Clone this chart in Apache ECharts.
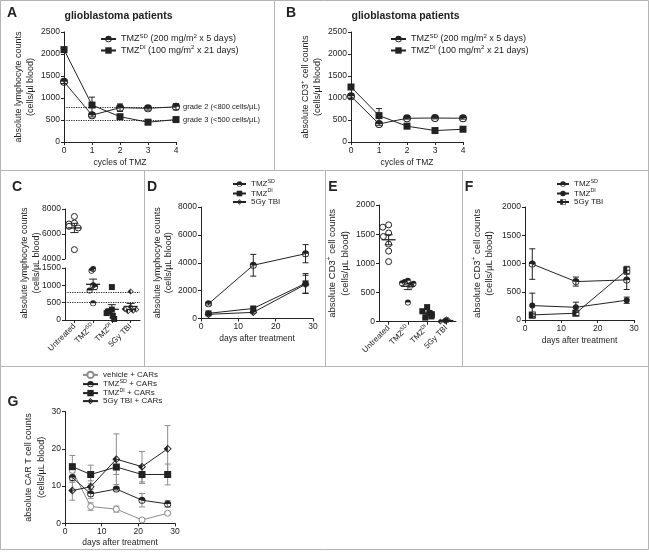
<!DOCTYPE html>
<html><head><meta charset="utf-8">
<script src="https://cdn.jsdelivr.net/npm/echarts@6/dist/echarts.min.js"></script>
<style>html,body{margin:0;padding:0;background:#fff}#c{width:649px;height:554px}</style>
</head><body><div id="c"></div>
<script>
// ---------------- DATA ----------------
// Panel A / B : glioblastoma patients
const cyclesTMZ = [0, 1, 2, 3, 4];
const aSD = [1370, 610, 780, 765, 800];
const aSDerr = [40, 40, 85, 40, 70];
const aDI = [2100, 840, 575, 450, 510];
const aDIerr = [40, 180, 40, 45, 30];
const gradeValues = [800, 500];
const gradeLabels = ['grade 2 (<800 cells/\u00b5L)', 'grade 3 (<500 cells/\u00b5L)'];

const bSD = [1040, 410, 540, 545, 540];
const bSDerr = [40, 30, 20, 20, 20];
const bDI = [1250, 600, 360, 260, 290];
const bDIerr = [30, 160, 30, 20, 20];

// Panel C / E : column scatter groups
const groups = ['Untreated', 'TMZ^SD', 'TMZ^DI', '5Gy TBI'];
const cUntreated = [7400, 6880, 6800, 6610, 6480, 4750];
const cSD = [1470, 1420, 1000, 950, 850, 480];
const cDI = [950, 300, 250, 200, 120, 30];
const cTBI = [820, 380, 320, 300, 270, 250];
const cRefLines = [800, 500];

const eUntreated = [1660, 1620, 1520, 1460, 1330, 1210, 1030];
const eSD = [700, 680, 660, 650, 620, 330];
const eDI = [250, 180, 150, 130, 110, 90, 70];
const eTBI = [40, 30, 20, 15, 10, 5];

// Panel D : lymphocytes over time
const dDays = [2, 14, 28];
const dSD = [1050, 3820, 4650];
const dSDerr = [80, 780, 650];
const dDI = [370, 720, 2520];
const dDIerr = [60, 100, 700];
const dTBI = [300, 440, 2450];
const dTBIerr = [40, 60, 650];

// Panel F : CD3+ over time
const fDays = [2, 14, 28];
const fSD = [990, 680, 710];
const fSDerr = [270, 80, 170];
const fDI = [255, 225, 350];
const fDIerr = [220, 90, 55];
const fTBI = [90, 120, 880];
const fTBIerr = [30, 40, 70];

// Panel G : CAR T cells
const gDays = [2, 7, 14, 21, 28];
const gVeh = [14.2, 4.5, 3.8, 0.9, 2.7];
const gVehErr = [1.5, 1.0, 0.8, 0.3, 0.4];
const gSD = [12.3, 7.9, 9.2, 6.2, 5.2];
const gSDerr = [1.3, 1.2, 0.5, 1.8, 0.9];
const gDI = [15.2, 13.1, 15.1, 13.1, 13.1];
const gDIerr = [3.0, 2.5, 2.0, 2.4, 2.8];
const gTBI = [8.8, 9.8, 17.2, 15.2, 20.0];
const gTBIerr = [2.6, 1.6, 6.8, 4.1, 6.2];

// ---------------- STYLE ----------------
const FONT = '"Liberation Sans", Arial, Helvetica, sans-serif';
const INK = '#222';
const GRAY = '#8c8c8c';
const SYM = {
  halfCircle: 'path://M-10,0A10,10,0,0,1,10,0ZM-10,0A10,10,0,0,0,10,0L7.6,0A7.6,7.6,0,0,1,-7.6,0Z',
  halfDiamond: 'path://M0,-10L0,10L-10,0ZM0,-10L10,0L0,10L0,6.8L6.8,0L0,-6.8Z',
  halfSquare: 'path://M-10,-10L0,-10L0,10L-10,10ZM0,-10L10,-10L10,10L0,10L0,7.6L7.6,7.6L7.6,-7.6L0,-7.6Z',
  ring: 'path://M-10,0A10,10,0,0,1,10,0L7.6,0A7.6,7.6,0,0,0,-7.6,0ZM-10,0A10,10,0,0,0,10,0L7.6,0A7.6,7.6,0,0,1,-7.6,0Z'
};

function supRich(fs, lh) {
  return {
    n: {fontSize: fs, lineHeight: lh, fontFamily: FONT, color: INK},
    s: {fontSize: Math.round(fs * 0.68 * 10) / 10, lineHeight: Math.round(fs * 0.8), verticalAlign: 'top', fontFamily: FONT, color: INK}
  };
}
function supText(t) { // 'TMZ^SD' -> rich
  const m = t.match(/^([^\^]*)\^(\S+)(.*)$/);
  if (!m) return '{n|' + t + '}';
  return '{n|' + m[1] + '}{s|' + m[2] + '}' + (m[3] ? '{n|' + m[3] + '}' : '');
}

function valAxis(gi, o, nameCfg) {
  return Object.assign({
    type: 'value', gridIndex: gi,
    axisLine: {show: true, onZero: false, lineStyle: {color: INK, width: 1}},
    axisTick: {show: true, length: 3, lineStyle: {color: INK, width: 1}},
    axisLabel: {color: INK, fontSize: 8.5, fontFamily: FONT, margin: 4, formatter: v => String(v)},
    splitLine: {show: false}
  }, nameCfg || {}, o);
}
function yName(text, gap, fs, lh) {
  return {name: text, nameLocation: 'middle', nameRotate: 90, nameGap: gap,
    nameTextStyle: {color: INK, fontSize: fs, lineHeight: lh, fontFamily: FONT, rich: supRich(fs, lh)}};
}
function xName(text, gap, fs) {
  return {name: text, nameLocation: 'middle', nameGap: gap,
    nameTextStyle: {color: INK, fontSize: fs, fontFamily: FONT}};
}
function catAxis(gi, show) {
  return {
    type: 'category', gridIndex: gi, data: groups, show: show,
    jitter: 12, jitterOverlap: false, jitterMargin: 0.3,
    axisLine: {show: true, lineStyle: {color: INK, width: 1}},
    axisTick: {show: true, length: 3, alignWithLabel: true, lineStyle: {color: INK}},
    axisLabel: {interval: 0, rotate: 45, margin: 5, fontSize: 8, fontFamily: FONT, color: INK,
      formatter: v => supText(v), rich: supRich(8, 10)}
  };
}

function errBars(color, cap) {
  return function (params, api) {
    const x = api.value(0), y = api.value(1), e = api.value(2);
    const hi = api.coord([x, y + e]), lo = api.coord([x, y - e]);
    const st = {stroke: color, lineWidth: 1};
    return {type: 'group', children: [
      {type: 'line', shape: {x1: hi[0], y1: hi[1], x2: lo[0], y2: lo[1]}, style: st},
      {type: 'line', shape: {x1: hi[0] - cap, y1: hi[1], x2: hi[0] + cap, y2: hi[1]}, style: st},
      {type: 'line', shape: {x1: lo[0] - cap, y1: lo[1], x2: lo[0] + cap, y2: lo[1]}, style: st}
    ]};
  };
}
function errSeries(xi, yi, xs, ys, es, color, cap) {
  return {type: 'custom', xAxisIndex: xi, yAxisIndex: yi, silent: true, z: 1,
    renderItem: errBars(color, cap || 3), encode: {x: 0, y: 1},
    data: xs.map((x, i) => [x, ys[i], es[i]])};
}
function lineSeries(name, xi, yi, xs, ys, sym, size, color, fill, border) {
  return {type: 'line', name: name, xAxisIndex: xi, yAxisIndex: yi, z: 3,
    data: xs.map((x, i) => [x, ys[i]]), symbol: sym, symbolSize: size, showAllSymbol: true,
    lineStyle: {color: color, width: 1},
    itemStyle: {color: fill || color, borderColor: color, borderWidth: border || 0, opacity: 1}};
}
function mean(a) { return a.reduce((s, v) => s + v, 0) / a.length; }
function sem(a) {
  const m = mean(a);
  const sd = Math.sqrt(a.reduce((s, v) => s + (v - m) * (v - m), 0) / (a.length - 1));
  return sd / Math.sqrt(a.length);
}
function meanSemSeries(xi, yi, idxs, arrays) {
  return {type: 'custom', xAxisIndex: xi, yAxisIndex: yi, silent: true, z: 5, encode: {x: 0, y: 1},
    data: idxs.map(i => [i, mean(arrays[i]), sem(arrays[i])]),
    renderItem: function (params, api) {
      const x = api.value(0), m = api.value(1), s = api.value(2);
      const c = api.coord([x, m]), hi = api.coord([x, m + s]), lo = api.coord([x, m - s]);
      const st = {stroke: INK, lineWidth: 1};
      return {type: 'group', children: [
        {type: 'line', shape: {x1: c[0] - 7, y1: c[1], x2: c[0] + 7, y2: c[1]}, style: {stroke: INK, lineWidth: 1.3}},
        {type: 'line', shape: {x1: hi[0], y1: hi[1], x2: lo[0], y2: lo[1]}, style: st},
        {type: 'line', shape: {x1: hi[0] - 4, y1: hi[1], x2: hi[0] + 4, y2: hi[1]}, style: st},
        {type: 'line', shape: {x1: lo[0] - 4, y1: lo[1], x2: lo[0] + 4, y2: lo[1]}, style: st}
      ]};
    }};
}
const groupSym = [
  {symbol: 'circle', color: '#fff', border: 1},
  {symbol: SYM.halfCircle, color: INK, border: 0},
  {symbol: 'rect', color: INK, border: 0},
  {symbol: SYM.halfDiamond, color: INK, border: 0}
];
function scatterGroups(xi, yi, arrays, filter, size) {
  const out = [];
  arrays.forEach((arr, gi) => {
    const vals = arr.filter(filter);
    if (!vals.length) return;
    const s = groupSym[gi];
    out.push({type: 'scatter', xAxisIndex: xi, yAxisIndex: yi, z: 3,
      symbol: s.symbol, symbolSize: size,
      itemStyle: {color: s.color, borderColor: INK, borderWidth: s.border, opacity: 1},
      data: vals.map(v => [gi, v])});
  });
  return out;
}

const cArrays = [cUntreated, cSD, cDI, cTBI];
const eArrays = [eUntreated, eSD, eDI, eTBI];
const BREAK = 3000;

// legend text mapping
const legendText = {
  A_SD: '{n|TMZ}{s|SD}{n| (200 mg/m}{s|2}{n| x 5 days)}',
  A_DI: '{n|TMZ}{s|DI}{n| (100 mg/m}{s|2}{n| x 21 days)}',
  B_SD: '{n|TMZ}{s|SD}{n| (200 mg/m}{s|2}{n| x 5 days)}',
  B_DI: '{n|TMZ}{s|DI}{n| (100 mg/m}{s|2}{n| x 21 days)}',
  D_SD: '{n|TMZ}{s|SD}', D_DI: '{n|TMZ}{s|DI}', D_TBI: '{n|5Gy TBI}',
  F_SD: '{n|TMZ}{s|SD}', F_DI: '{n|TMZ}{s|DI}', F_TBI: '{n|5Gy TBI}',
  G_V: '{n|vehicle + CARs}', G_SD: '{n|TMZ}{s|SD}{n| + CARs}', G_DI: '{n|TMZ}{s|DI}{n| + CARs}', G_TBI: '{n|5Gy TBI + CARs}'
};
function legend(names, left, top, iw, ih, gap, fs, lh) {
  return {data: names, left: left, top: top, orient: 'vertical', padding: 0,
    itemWidth: iw, itemHeight: ih, itemGap: gap, selectedMode: false,
    formatter: n => legendText[n],
    textStyle: {color: INK, fontSize: fs, fontFamily: FONT, rich: supRich(fs, lh)}};
}

// ---------------- OPTION ----------------
const grids = [
  {left: 64, top: 32, width: 112, height: 110},      // 0 A
  {left: 351, top: 32, width: 112, height: 110},     // 1 B
  {left: 65, top: 209, width: 75, height: 50},       // 2 C upper
  {left: 65, top: 268, width: 75, height: 52},       // 3 C lower
  {left: 201, top: 207, width: 112, height: 111.5},  // 4 D
  {left: 379, top: 205, width: 77, height: 116.7},   // 5 E
  {left: 525, top: 207, width: 109, height: 113},    // 6 F
  {left: 65, top: 411.5, width: 110, height: 111.8}  // 7 G
];

const xAxes = [
  valAxis(0, {min: 0, max: 4, interval: 1}, xName('cycles of TMZ', 16, 8.5)),
  valAxis(1, {min: 0, max: 4, interval: 1}, xName('cycles of TMZ', 16, 8.5)),
  catAxis(2, false),
  catAxis(3, true),
  valAxis(4, {min: 0, max: 30, interval: 10}, xName('days after treatment', 16, 8.5)),
  catAxis(5, true),
  valAxis(6, {min: 0, max: 30, interval: 10}, xName('days after treatment', 16, 8.5)),
  valAxis(7, {min: 0, max: 30, interval: 10}, xName('days after treatment', 15, 8.5))
];
const yAxes = [
  valAxis(0, {min: 0, max: 2500, interval: 500}, yName('{n|absolute lymphocyte counts}\n{n|(cells/\u00b5l blood)}', 22, 9, 12.5)),
  valAxis(1, {min: 0, max: 2500, interval: 500}, yName('{n|absolute CD3}{s|+}{n| cell counts}\n{n|(cells/\u00b5l blood)}', 23, 9, 12.5)),
  valAxis(2, {min: 4000, max: 8000, interval: 2000}),
  valAxis(3, {min: 0, max: 1500, interval: 500}),
  valAxis(4, {min: 0, max: 8000, interval: 2000}, yName('{n|absolute lymphocyte counts}\n{n|(cells/\u00b5L blood)}', 24, 9, 11)),
  valAxis(5, {min: 0, max: 2000, interval: 500}, yName('{n|absolute CD3}{s|+}{n| cell counts}\n{n|(cells/\u00b5L blood)}', 22, 9.5, 13)),
  valAxis(6, {min: 0, max: 2000, interval: 500}, yName('{n|absolute CD3}{s|+}{n| cell counts}\n{n|(cells/\u00b5L blood)}', 30, 9.5, 12)),
  valAxis(7, {min: 0, max: 30, interval: 10}, yName('{n|absolute CAR T cell counts}\n{n|(cells/\u00b5L blood)}', 13, 9, 13))
];

const series = [];
// A
const aSDline = lineSeries('A_SD', 0, 0, cyclesTMZ, aSD, SYM.halfCircle, 8, INK);
aSDline.markLine = {silent: true, symbol: 'none', animation: false,
  lineStyle: {type: 'dotted', color: INK, width: 1.2},
  label: {show: true, position: 'end', distance: 7, color: INK, fontSize: 7.5, fontFamily: FONT},
  data: gradeValues.map((v, i) => ({yAxis: v, label: {formatter: gradeLabels[i]}}))};
series.push(aSDline, lineSeries('A_DI', 0, 0, cyclesTMZ, aDI, 'rect', 7, INK),
  errSeries(0, 0, cyclesTMZ, aSD, aSDerr, INK), errSeries(0, 0, cyclesTMZ, aDI, aDIerr, INK));
// B
series.push(lineSeries('B_SD', 1, 1, cyclesTMZ, bSD, SYM.halfCircle, 8, INK),
  lineSeries('B_DI', 1, 1, cyclesTMZ, bDI, 'rect', 7, INK),
  errSeries(1, 1, cyclesTMZ, bSD, bSDerr, INK), errSeries(1, 1, cyclesTMZ, bDI, bDIerr, INK));
// C
const cLower = scatterGroups(3, 3, cArrays, v => v < BREAK, 6);
cLower[0].markLine = {silent: true, symbol: 'none', animation: false, label: {show: false},
  lineStyle: {type: 'dotted', color: INK, width: 1.2}, data: cRefLines.map(v => ({yAxis: v}))};
series.push(...scatterGroups(2, 2, cArrays, v => v >= BREAK, 6), ...cLower,
  meanSemSeries(2, 2, [0], cArrays), meanSemSeries(3, 3, [1, 2, 3], cArrays));
// D
series.push(lineSeries('D_SD', 4, 4, dDays, dSD, SYM.halfCircle, 7, INK),
  lineSeries('D_DI', 4, 4, dDays, dDI, 'rect', 6, INK),
  lineSeries('D_TBI', 4, 4, dDays, dTBI, SYM.halfDiamond, 8, INK),
  errSeries(4, 4, dDays, dSD, dSDerr, INK), errSeries(4, 4, dDays, dDI, dDIerr, INK), errSeries(4, 4, dDays, dTBI, dTBIerr, INK));
// E
series.push(...scatterGroups(5, 5, eArrays, v => true, 6), meanSemSeries(5, 5, [0, 1, 2, 3], eArrays));
// F
series.push(lineSeries('F_SD', 6, 6, fDays, fSD, SYM.halfCircle, 7, INK),
  lineSeries('F_DI', 6, 6, fDays, fDI, 'circle', 6, INK),
  lineSeries('F_TBI', 6, 6, fDays, fTBI, SYM.halfSquare, 7, INK),
  errSeries(6, 6, fDays, fSD, fSDerr, INK), errSeries(6, 6, fDays, fDI, fDIerr, INK), errSeries(6, 6, fDays, fTBI, fTBIerr, INK));
// G
series.push(lineSeries('G_V', 7, 7, gDays, gVeh, 'circle', 6, GRAY, '#fff', 1),
  lineSeries('G_SD', 7, 7, gDays, gSD, SYM.halfCircle, 7, INK),
  lineSeries('G_DI', 7, 7, gDays, gDI, 'rect', 7, INK),
  lineSeries('G_TBI', 7, 7, gDays, gTBI, SYM.halfDiamond, 8, INK),
  errSeries(7, 7, gDays, gVeh, gVehErr, GRAY), errSeries(7, 7, gDays, gSD, gSDerr, GRAY),
  errSeries(7, 7, gDays, gDI, gDIerr, GRAY), errSeries(7, 7, gDays, gTBI, gTBIerr, GRAY));

// decoration
const BORDER = '#b4b4b4';
function ln(x1, y1, x2, y2) { return {type: 'line', silent: true, shape: {x1, y1, x2, y2}, style: {stroke: BORDER, lineWidth: 1}}; }
function txt(x, y, t, font, rot) {
  return {type: 'text', x: x, y: y, rotation: rot || 0, silent: true,
    style: {text: t, font: font, fill: INK, align: 'center', verticalAlign: 'middle', lineHeight: 12}};
}
const graphic = [
  {type: 'rect', silent: true, shape: {x: 0.5, y: 0.5, width: 648, height: 549}, style: {fill: 'none', stroke: BORDER, lineWidth: 1}},
  ln(274.5, 0, 274.5, 170.5), ln(0, 170.5, 649, 170.5),
  ln(144.5, 170.5, 144.5, 366.5), ln(325.5, 170.5, 325.5, 366.5), ln(462.5, 170.5, 462.5, 366.5),
  ln(0, 366.5, 649, 366.5),
  txt(12, 13, 'A', 'bold 14px ' + FONT), txt(291, 13, 'B', 'bold 14px ' + FONT),
  txt(17, 187, 'C', 'bold 14px ' + FONT), txt(152, 187, 'D', 'bold 14px ' + FONT),
  txt(333, 187, 'E', 'bold 14px ' + FONT), txt(469, 187, 'F', 'bold 14px ' + FONT),
  txt(13, 402, 'G', 'bold 14px ' + FONT),
  txt(118.5, 16, 'glioblastoma patients', 'bold 10.5px ' + FONT),
  txt(405.5, 16, 'glioblastoma patients', 'bold 10.5px ' + FONT),
  txt(31, 263, 'absolute lymphocyte counts\n(cells/\u00b5L blood)', '9px ' + FONT, Math.PI / 2)
];

const option = {
  animation: false,
  backgroundColor: '#fff',
  textStyle: {fontFamily: FONT},
  grid: grids,
  xAxis: xAxes,
  yAxis: yAxes,
  legend: [
    legend(['A_SD', 'A_DI'], 100, 33, 15, 8, 1, 9, 12),
    legend(['B_SD', 'B_DI'], 390, 33, 15, 8, 1, 9, 12),
    legend(['D_SD', 'D_DI', 'D_TBI'], 232, 179, 13, 7, 0.5, 8, 10),
    legend(['F_SD', 'F_DI', 'F_TBI'], 556, 179, 12, 7, 0.5, 8, 10),
    legend(['G_V', 'G_SD', 'G_DI', 'G_TBI'], 82, 370.7, 15, 8, 0, 8, 10)
  ],
  series: series,
  graphic: graphic
};
const chart = echarts.init(document.getElementById('c'), null, {renderer: 'canvas', width: 649, height: 554});
chart.setOption(option);
</script>
</body></html>
